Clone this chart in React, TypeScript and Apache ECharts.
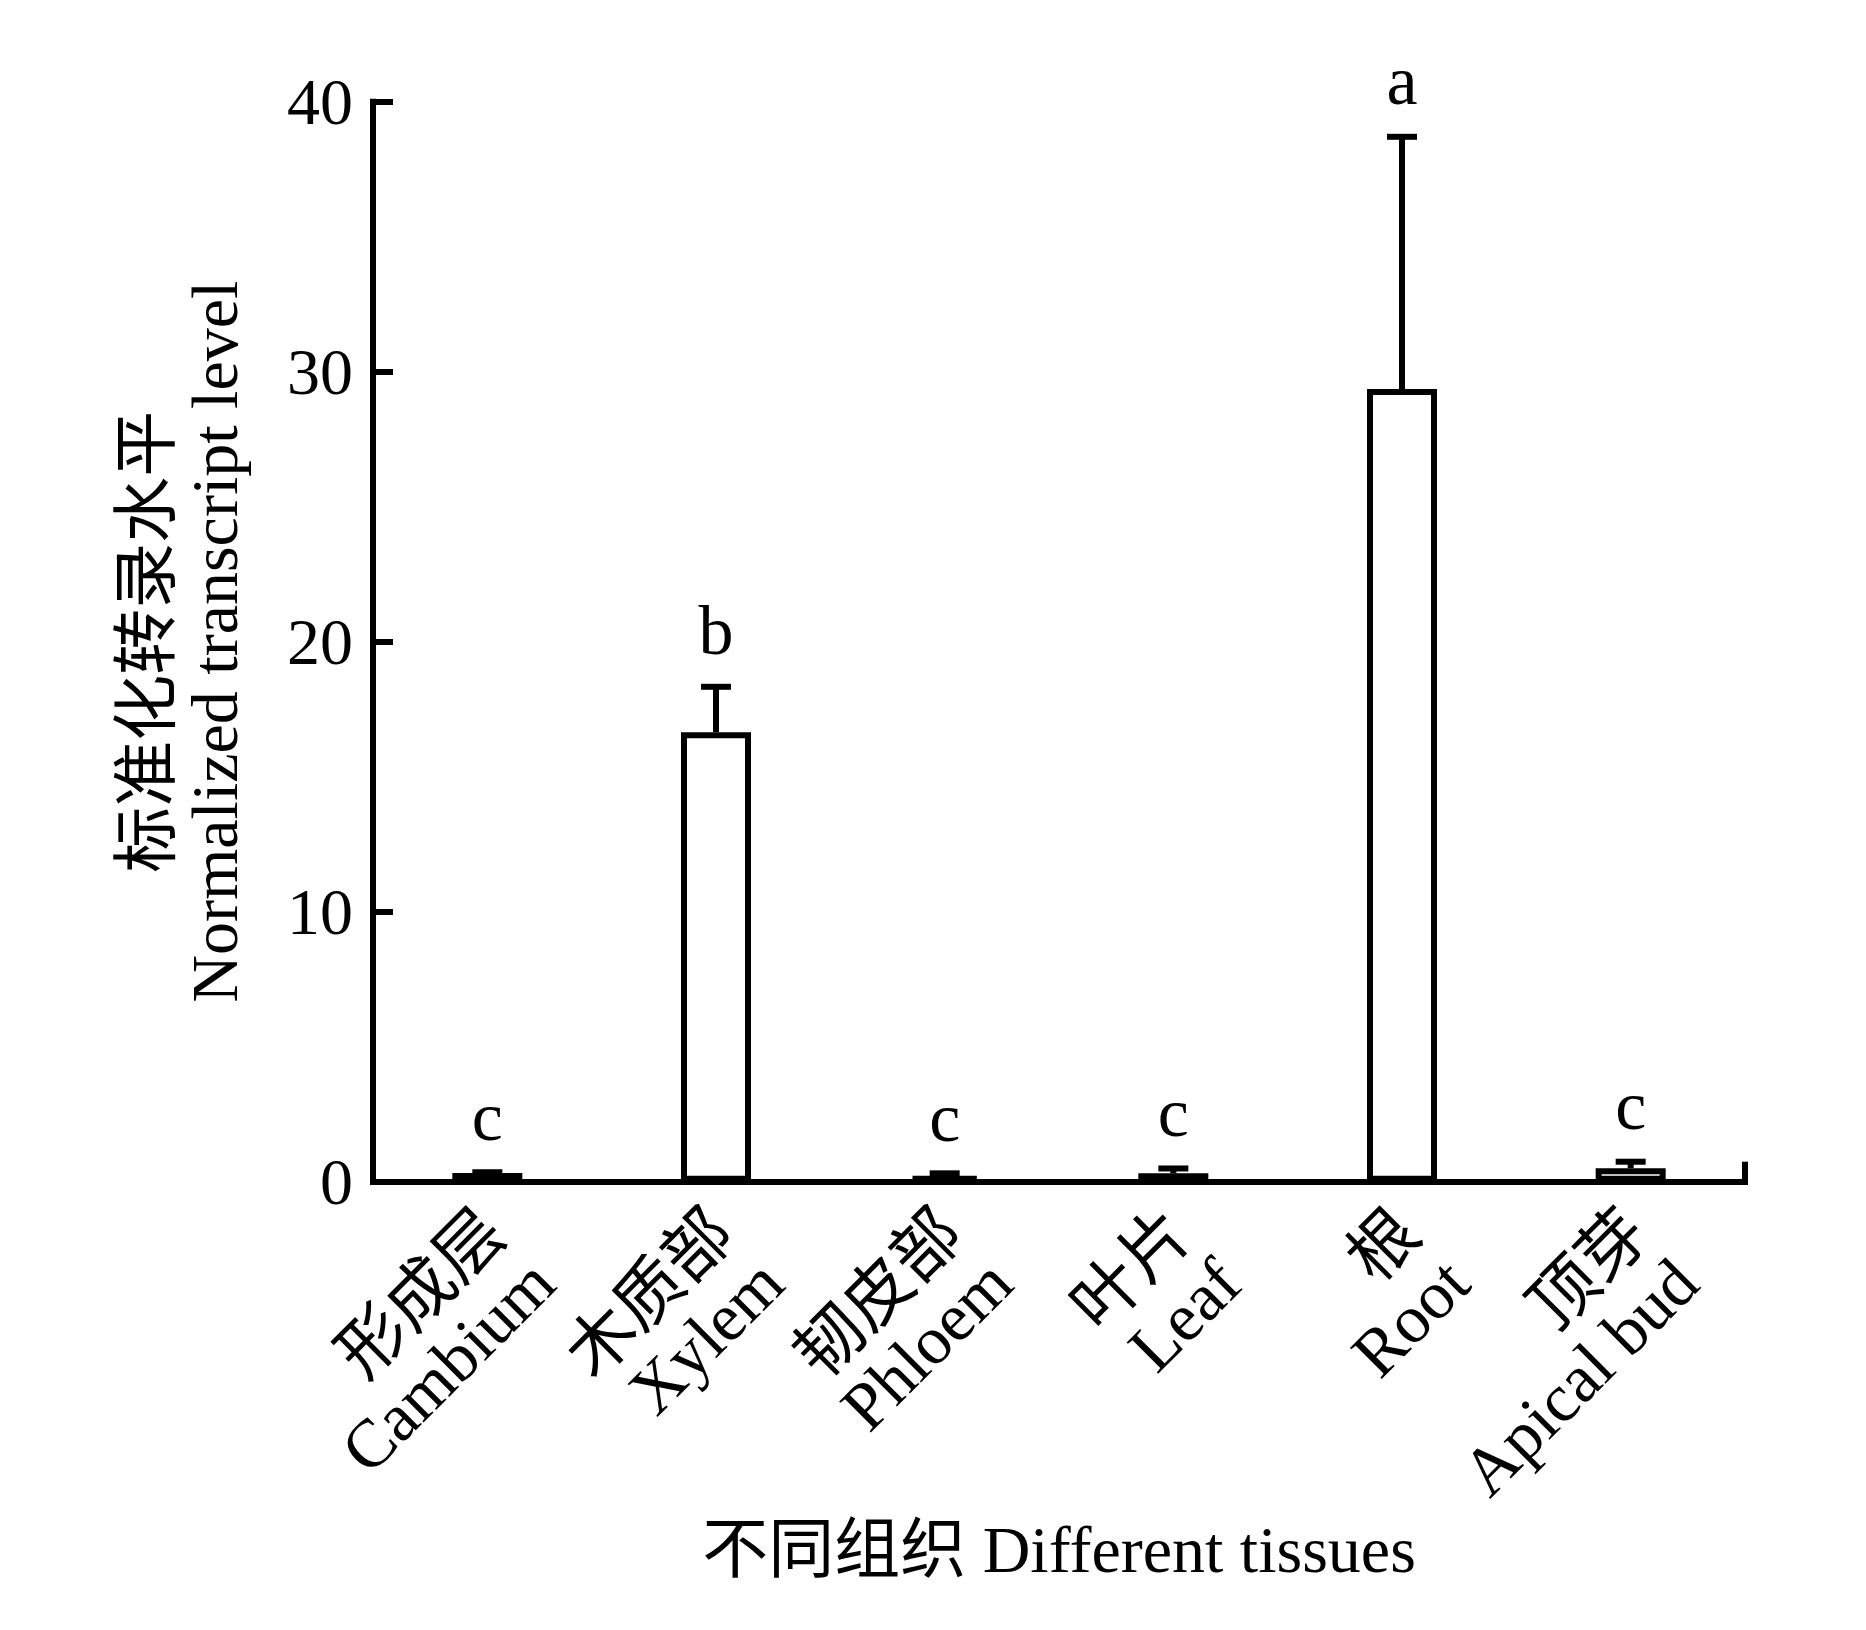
import React, { useEffect, useRef } from "react";
import * as echarts from "echarts";

const categories = [
  "形成层\nCambium",
  "木质部\nXylem",
  "韧皮部\nPhloem",
  "叶片\nLeaf",
  "根\nRoot",
  "顶芽\nApical bud",
];
const means = [0.32, 16.65, 0.21, 0.31, 29.36, 0.5];
const errorTops = [0.35, 18.33, 0.31, 0.49, 38.7, 0.74];
const letters = ["c", "b", "c", "c", "a", "c"];
const yTicks = { min: 0, max: 40, interval: 10 };
const yTitle = "标准化转录水平\nNormalized transcript level";
const xTitle = "不同组织 Different tissues";

const FONT = "'Liberation Serif', 'Times New Roman', 'Noto Sans CJK SC', serif";

export default function App() {
  const ref = useRef<HTMLDivElement>(null);
  useEffect(() => {
    document.body.style.margin = "0";
    const chart = echarts.init(ref.current!, null, { renderer: "svg" });
    const errData = categories.map((_, i) => [i, means[i], errorTops[i]]);
    chart.setOption({
      animation: false,
      backgroundColor: "#fff",
      grid: { left: 373, top: 101.7, width: 1372, height: 1080, containLabel: false },
      xAxis: {
        type: "category",
        data: categories,
        name: xTitle,
        nameLocation: "middle",
        nameGap: 335,
        nameMoveOverlap: false,
        nameTextStyle: { fontSize: 66, lineHeight: 66, fontFamily: FONT, color: "#000" },
        axisLine: { lineStyle: { color: "#000", width: 6, cap: "square" } },
        axisTick: { show: false },
        axisLabel: {
          rotate: 45,
          interval: 0,
          align: "right",
          verticalAlign: "top",
          margin: -4,
          padding: [0, 27, 0, 0],
          fontSize: 68,
          lineHeight: 70,
          fontFamily: FONT,
          color: "#000",
        },
        splitLine: { show: false },
      },
      yAxis: {
        type: "value",
        min: yTicks.min,
        max: yTicks.max,
        interval: yTicks.interval,
        name: yTitle,
        nameLocation: "middle",
        nameRotate: 90,
        nameGap: 125,
        nameMoveOverlap: false,
        nameTextStyle: { fontSize: 66, lineHeight: 68, fontFamily: FONT, color: "#000", align: "center" },
        axisLine: { show: true, lineStyle: { color: "#000", width: 6, cap: "square" } },
        axisTick: { show: true, inside: true, length: 20, lineStyle: { color: "#000", width: 6 } },
        axisLabel: { fontSize: 66, fontFamily: FONT, color: "#000", margin: 20 },
        splitLine: { show: false },
      },
      series: [
        {
          type: "bar",
          data: means,
          barWidth: 70,
          itemStyle: { color: "#fff", borderColor: "#000", borderWidth: 6 },
          z: 2,
        },
        {
          type: "custom",
          data: errData,
          encode: { x: 0, y: 2 },
          clip: false,
          z: 3,
          renderItem: (params: any, api: any) => {
            const i = api.value(0);
            const base = api.coord([i, api.value(1)]);
            const top = api.coord([i, api.value(2)]);
            const half = 15;
            const st = { stroke: "#000", lineWidth: 6 };
            return {
              type: "group",
              children: [
                { type: "line", shape: { x1: base[0], y1: base[1], x2: top[0], y2: top[1] }, style: st },
                { type: "line", shape: { x1: top[0] - half, y1: top[1], x2: top[0] + half, y2: top[1] }, style: st },
                {
                  type: "text",
                  x: top[0],
                  y: top[1] - 56,
                  style: {
                    text: letters[params.dataIndex],
                    fontSize: 70,
                    fontFamily: FONT,
                    fill: "#000",
                    align: "center",
                    verticalAlign: "middle",
                  },
                },
              ],
            };
          },
        },
        {
          type: "custom",
          data: [[categories.length - 1, 0]],
          encode: { x: 0, y: 1 },
          clip: false,
          z: 4,
          renderItem: (params: any, api: any) => {
            const c = api.coord([api.value(0), 0]);
            const bw = api.size([1, 0])[0];
            const x = c[0] + bw / 2;
            return {
              type: "line",
              shape: { x1: x, y1: c[1], x2: x, y2: c[1] - 20 },
              style: { stroke: "#000", lineWidth: 6 },
            };
          },
        },
      ],
    });
    return () => chart.dispose();
  }, []);
  return <div ref={ref} style={{ width: 1866, height: 1630 }} />;
}
